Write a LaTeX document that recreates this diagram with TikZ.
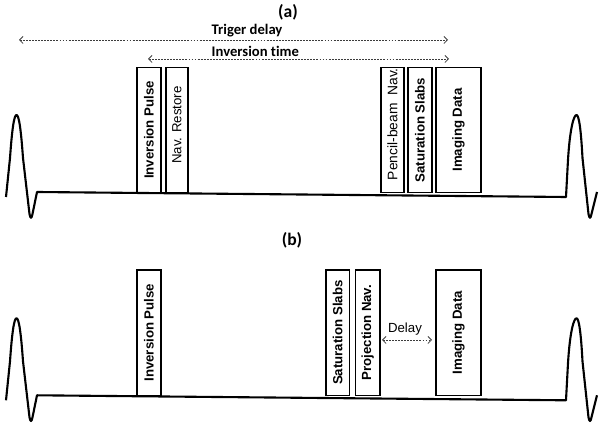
\documentclass[tikz,border=0pt]{standalone}
\usepackage{fontspec}
\setmainfont{Liberation Sans}
\newfontfamily\headfont[Ligatures=NoCommon]{Carlito}
\usetikzlibrary{arrows.meta,positioning}
\definecolor{sdash}{HTML}{3C3C3C}

\tikzset{
  slot/.style={draw,line width=1.4pt,rotate=90,inner sep=0pt,minimum width=3.76cm,
    font=\fontsize{11.3}{13}\selectfont\bfseries},
  thin slot/.style={slot,font=\fontsize{11.3}{13}\selectfont},
  timespan/.style={{Straight Barb[length=3pt,width=6pt]}-{Straight Barb[length=3pt,width=6pt]},
    sdash,line width=0.65pt,dash pattern=on 1.6pt off 1pt},
  heading/.style={font=\headfont\bfseries\fontsize{12.5}{14}\selectfont,inner sep=0pt},
  tag/.style={font=\headfont\bfseries\fontsize{15}{17}\selectfont,inner sep=0pt},
  trace/.style={line width=1.8pt,line join=round}
}

\begin{document}
\begin{tikzpicture}[x=0.03cm,y=-0.03cm]
  \useasboundingbox (0,0) rectangle (602,429);

  % ECG trace, one for each panel
  \foreach \dy/\tag in {0/A,203.3/B}{
    \begin{scope}[shift={(0,\dy)}]
      \coordinate (start\tag) at (6,197);
      \coordinate (foot\tag) at (37,192);
      \coordinate (rise\tag) at (566,197);
      \coordinate (end\tag) at (597,192);
      \draw[trace] (start\tag) -- (10,158) .. controls (12,130) and (14,115) .. (16.5,115)
        .. controls (19,115) and (21,130) .. (23,158) -- (29.5,214)
        .. controls (30.5,219) and (31.5,219) .. (32.5,214) -- (foot\tag)
        -- (rise\tag) -- (568,160) .. controls (570,127) and (574,115) .. (576.5,115)
        .. controls (579,115) and (581,130) .. (582.5,158) -- (588.5,214)
        .. controls (589.5,219) and (590.5,219) .. (591.5,214) -- (end\tag);
    \end{scope}
  }

  % panel (a)
  \node[tag] (tagA) at (288,12) {(a)};
  \coordinate (trigL) at (19,40);
  \coordinate (trigR) at (448,40);
  \draw[timespan] (trigL) -- (trigR);
  \node[heading,anchor=base west] (trigT) at (211.5,34.3) {Triger delay};
  \coordinate (invL) at (148,59);
  \coordinate (invR) at (449,59);
  \draw[timespan] (invL) -- (invR);
  \node[heading,anchor=base west] (invT) at (211.5,56.7) {Inversion time};

  \node[slot,minimum height=0.71cm]  (invA)    at (148.9,130) {Inversion Pulse};
  \node[thin slot,minimum height=0.675cm] (navA) at (177,130) {\hspace{0.3cm}Nav. Restore};
  \node[thin slot,minimum height=0.69cm,font=\fontsize{11.8}{13}\selectfont]
                                     (pencilA) at (392.5,130) {\hspace{0.35cm}Pencil-beam\ \ Nav.};
  \node[slot,minimum height=0.72cm]  (satA)    at (420,130)   {Saturation Slabs};
  \node[slot,minimum height=1.35cm]  (imgA)    at (458.5,130) {Imaging Data};

  % panel (b)
  \node[tag] (tagB) at (292,240) {(b)};
  \node[slot,minimum height=0.71cm]  (invB)  at (148.9,332.7) {Inversion Pulse};
  \node[slot,minimum height=0.705cm] (satB)  at (337.7,332.7) {Saturation Slabs};
  \node[slot,minimum height=0.735cm] (projB) at (367.7,332.7) {Projection Nav.};
  \node[slot,minimum height=1.35cm]  (imgB)  at (458.5,332.7) {Imaging Data};

  \coordinate (delL) at (382,340);
  \coordinate (delR) at (432,340);
  \draw[timespan] (delL) -- (delR);
  \node[font=\fontsize{11.3}{13}\selectfont,inner sep=0pt] (delT) at (405,329) {Delay};
\end{tikzpicture}
\end{document}
